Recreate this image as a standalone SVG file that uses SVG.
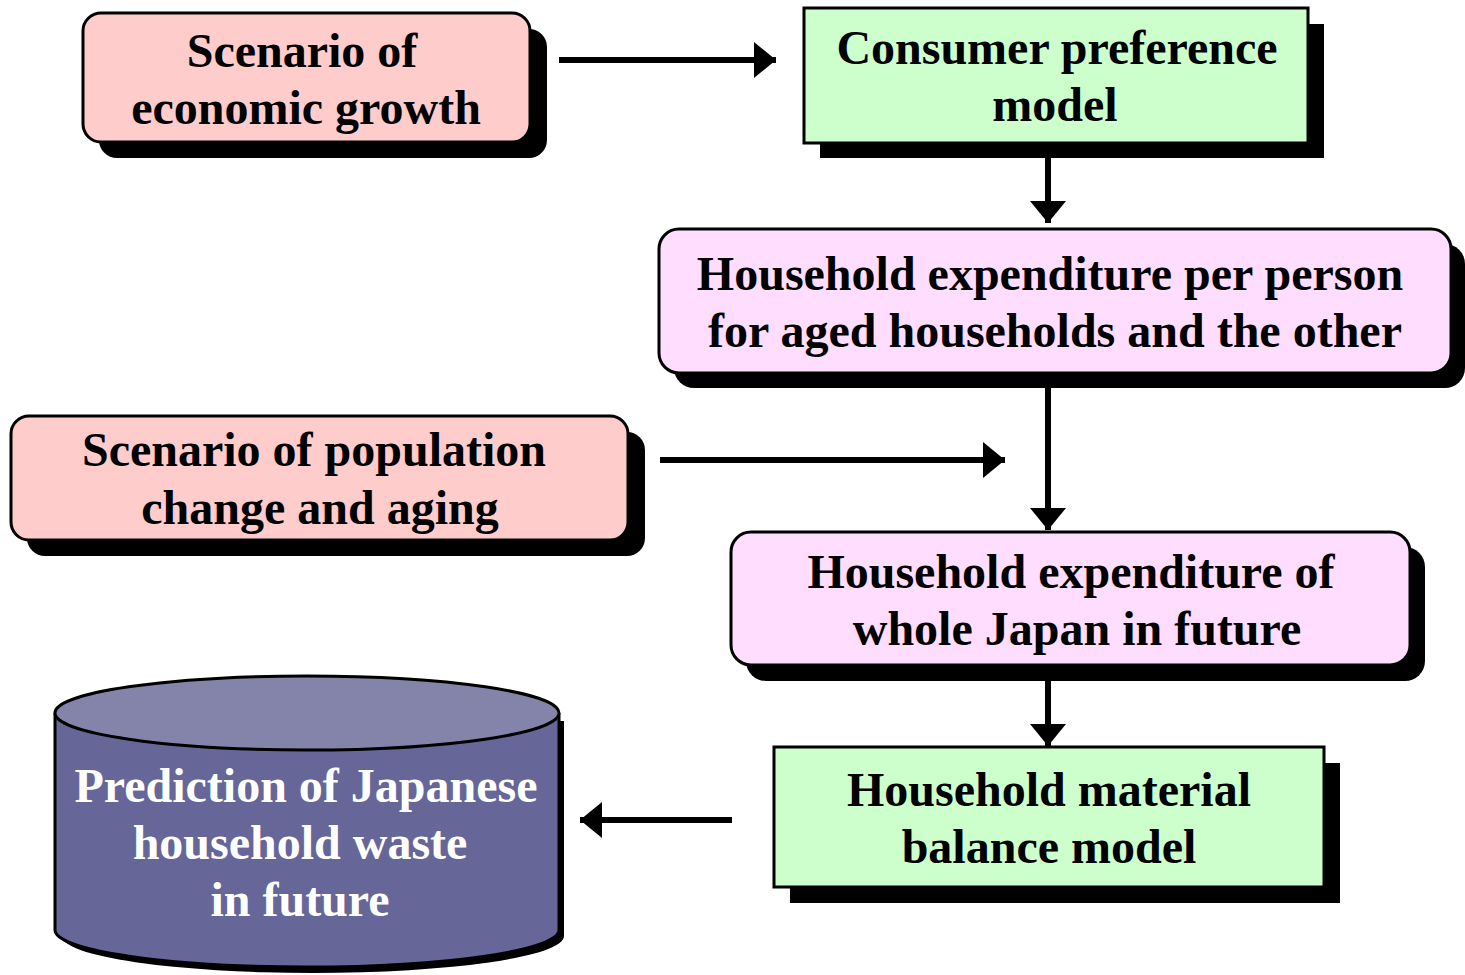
<svg xmlns="http://www.w3.org/2000/svg" width="1465" height="975" viewBox="0 0 1465 975">
<style>
.t{font-family:"Liberation Serif","Times New Roman",serif;font-weight:bold;font-size:48px;text-anchor:middle;fill:#000}
.w{fill:#fff}
.sh{fill:#000}
.b{stroke:#000;stroke-width:3}
.red{fill:#FFCCCC}
.grn{fill:#CCFFCC}
.pnk{fill:#FFDDFF}
.ln{stroke:#000;stroke-width:6;fill:none}
</style>
<defs>
<marker id="ah" markerUnits="userSpaceOnUse" markerWidth="24" markerHeight="36" refX="22" refY="18" orient="auto">
<path d="M0,0 L22,18 L0,36 Z" fill="#000"/>
</marker>
</defs>
<rect width="1465" height="975" fill="#fff"/>
<g id="connectors">
<line class="ln" x1="559" y1="60" x2="776" y2="60" marker-end="url(#ah)"/>
<line class="ln" x1="1048" y1="158" x2="1048" y2="223" marker-end="url(#ah)"/>
<line class="ln" x1="1048" y1="388" x2="1048" y2="530" marker-end="url(#ah)"/>
<line class="ln" x1="660" y1="460" x2="1005" y2="460" marker-end="url(#ah)"/>
<line class="ln" x1="1048" y1="681" x2="1048" y2="746" marker-end="url(#ah)"/>
<line class="ln" x1="732" y1="820" x2="580" y2="820" marker-end="url(#ah)"/>
</g>
<g id="econ">
<rect class="sh" x="99" y="29" width="448" height="129" rx="18"/>
<rect class="red b" x="83" y="13" width="447" height="129" rx="18"/>
<text class="t" x="302" y="67">Scenario of</text>
<text class="t" x="306" y="124">economic growth</text>
</g>
<g id="consumer">
<rect class="sh" x="820" y="24" width="504" height="134"/>
<rect class="grn b" x="804" y="8" width="504" height="135"/>
<text class="t" x="1057" y="64">Consumer preference</text>
<text class="t" x="1055" y="121">model</text>
</g>
<g id="perperson">
<rect class="sh" x="674" y="244" width="791" height="144" rx="20"/>
<rect class="pnk b" x="659" y="229" width="792" height="144" rx="20"/>
<text class="t" x="1050" y="290">Household expenditure per person</text>
<text class="t" x="1055" y="347">for aged households and the other</text>
</g>
<g id="population">
<rect class="sh" x="27" y="432" width="618" height="124" rx="18"/>
<rect class="red b" x="11" y="416" width="617" height="124" rx="18"/>
<text class="t" x="314" y="466">Scenario of population</text>
<text class="t" x="320" y="524">change and aging</text>
</g>
<g id="wholejapan">
<rect class="sh" x="746" y="547" width="679" height="134" rx="20"/>
<rect class="pnk b" x="731" y="532" width="679" height="133" rx="20"/>
<text class="t" x="1071" y="588">Household expenditure of</text>
<text class="t" x="1077" y="645">whole Japan in future</text>
</g>
<g id="material">
<rect class="sh" x="790" y="763" width="550" height="140"/>
<rect class="grn b" x="774" y="747" width="550" height="140"/>
<text class="t" x="1049" y="806">Household material</text>
<text class="t" x="1049" y="863">balance model</text>
</g>
<g id="prediction">
<path d="M59,717 L59,932 A251,37 0 0 0 561,932 L561,717 Z" fill="#000" transform="translate(3,4)"/>
<path d="M55,713 L55,930 A252,37 0 0 0 559,930 L559,713" fill="#666699" stroke="#000" stroke-width="3"/>
<ellipse cx="307" cy="713" rx="252" ry="37" fill="#8484AA" stroke="#000" stroke-width="3"/>
<text class="t w" x="306" y="802">Prediction of Japanese</text>
<text class="t w" x="300" y="859">household waste</text>
<text class="t w" x="300" y="916">in future</text>
</g>
</svg>
